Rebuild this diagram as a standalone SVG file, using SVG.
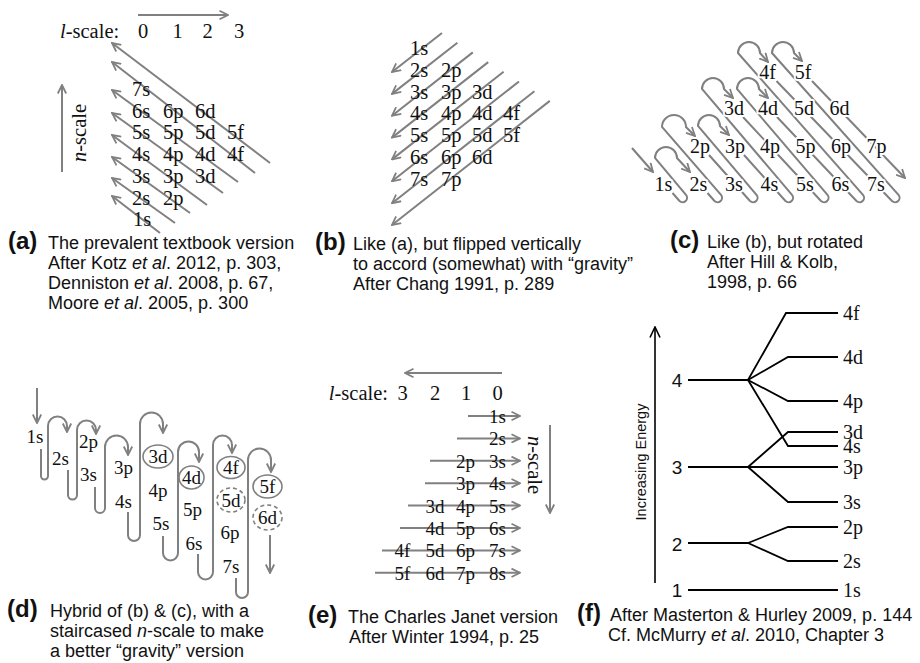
<svg xmlns="http://www.w3.org/2000/svg" width="920" height="663" viewBox="0 0 920 663">
<style>
.g{stroke:#808080;stroke-width:2;fill:none}
.ga{stroke:#808080;stroke-width:2;fill:none;marker-end:url(#ag)}
.k{stroke:#000;stroke-width:1.8;fill:none}
.ka{stroke:#000;stroke-width:1.6;fill:none;marker-end:url(#ak)}
.lab{font-family:"Liberation Serif","Times New Roman",serif;font-size:20.5px;fill:#111}
.l20{font-size:20px}
.l19{font-size:19px}
.mid{text-anchor:middle}
.halo{paint-order:stroke;stroke:#fff;stroke-width:4px;stroke-linejoin:round}
.cap{font-family:"Liberation Sans",Arial,sans-serif;font-size:18px;fill:#111}
.pl{font-family:"Liberation Sans",Arial,sans-serif;font-size:24px;font-weight:bold;fill:#111}
.num{font-family:"Liberation Sans",Arial,sans-serif;font-size:19px;fill:#111;text-anchor:middle}
.ov{fill:none;stroke:#808080;stroke-width:1.6}
.dash{stroke-dasharray:4 3}
</style>
<defs>
<marker id="ag" viewBox="0 0 10 10" refX="9" refY="5" markerWidth="10" markerHeight="10" markerUnits="userSpaceOnUse" orient="auto"><path d="M0.5,0.8 L9,5 L0.5,9.2" fill="none" stroke="#808080" stroke-width="1.8"/></marker>
<marker id="ak" viewBox="0 0 12 12" refX="11" refY="6" markerWidth="12" markerHeight="12" markerUnits="userSpaceOnUse" orient="auto"><path d="M0.5,1 L11,6 L0.5,11" fill="none" stroke="#000" stroke-width="1.6"/></marker>
</defs>
<rect width="920" height="663" fill="#fff"/>

<!-- ===== Panel (a) ===== -->
<g id="a-connectors">
<line class="ga" x1="138" y1="15" x2="228" y2="15"/>
<line class="ga" x1="62" y1="172" x2="62" y2="85"/>
<line class="ga" x1="270" y1="163" x2="112" y2="43"/>
<line class="ga" x1="255" y1="173" x2="112" y2="62"/>
<line class="ga" x1="238" y1="182" x2="112" y2="90"/>
<line class="ga" x1="223" y1="193" x2="112" y2="113"/>
<line class="ga" x1="207" y1="205" x2="112" y2="135"/>
<line class="ga" x1="190" y1="213" x2="112" y2="157"/>
<line class="ga" x1="175" y1="223" x2="112" y2="178"/>
<line class="ga" x1="160" y1="233" x2="112" y2="196"/>
</g>
<g id="a-lscale"><text class="lab" x="60" y="38"><tspan font-style="italic">l</tspan>-scale:</text>
<text class="lab mid" y="38"><tspan x="143">0</tspan><tspan x="177.5">1</tspan><tspan x="207.5">2</tspan><tspan x="239">3</tspan></text></g>
<g id="a-nscale"><text class="lab mid" transform="translate(86,133) rotate(-90)"><tspan font-style="italic">n</tspan>-scale</text></g>
<g id="a-7s"><text class="lab" x="132" y="96">7s</text></g>
<g id="a-6s"><text class="lab" x="132" y="117.5">6s</text></g>
<g id="a-6p"><text class="lab" x="163" y="117.5">6p</text></g>
<g id="a-6d"><text class="lab" x="195" y="117.5">6d</text></g>
<g id="a-5s"><text class="lab" x="132" y="139">5s</text></g>
<g id="a-5p"><text class="lab" x="163" y="139">5p</text></g>
<g id="a-5d"><text class="lab" x="195" y="139">5d</text></g>
<g id="a-5f"><text class="lab" x="227" y="139">5f</text></g>
<g id="a-4s"><text class="lab" x="132" y="161">4s</text></g>
<g id="a-4p"><text class="lab" x="163" y="161">4p</text></g>
<g id="a-4d"><text class="lab" x="195" y="161">4d</text></g>
<g id="a-4f"><text class="lab" x="227" y="161">4f</text></g>
<g id="a-3s"><text class="lab" x="132" y="183">3s</text></g>
<g id="a-3p"><text class="lab" x="163" y="183">3p</text></g>
<g id="a-3d"><text class="lab" x="195" y="183">3d</text></g>
<g id="a-2s"><text class="lab" x="132" y="204.5">2s</text></g>
<g id="a-2p"><text class="lab" x="163" y="204.5">2p</text></g>
<g id="a-1s"><text class="lab" x="133" y="226">1s</text></g>
<g id="a-caption">
<text class="pl" x="8" y="249">(a)</text>
<text class="cap" x="48" y="249">The prevalent textbook version</text>
<text class="cap" x="48" y="269">After Kotz <tspan font-style="italic">et al</tspan>. 2012, p. 303,</text>
<text class="cap" x="48" y="289">Denniston <tspan font-style="italic">et al</tspan>. 2008, p. 67,</text>
<text class="cap" x="48" y="309">Moore <tspan font-style="italic">et al</tspan>. 2005, p. 300</text>
</g>

<!-- ===== Panel (b) ===== -->
<g id="b-connectors">
<line class="ga" x1="442" y1="33" x2="392" y2="72"/>
<line class="ga" x1="457.4" y1="42.7" x2="392" y2="93.9"/>
<line class="ga" x1="472.8" y1="52.4" x2="392" y2="115.7"/>
<line class="ga" x1="488.2" y1="62.1" x2="392" y2="137.6"/>
<line class="ga" x1="503.6" y1="71.8" x2="392" y2="159.4"/>
<line class="ga" x1="519" y1="81.5" x2="392" y2="181.3"/>
<line class="ga" x1="534.4" y1="91.2" x2="392" y2="203.2"/>
<line class="ga" x1="549.8" y1="100.9" x2="392" y2="225"/>
</g>
<g id="b-1s"><text class="lab" x="410" y="55">1s</text></g>
<g id="b-2s"><text class="lab" x="410" y="76.8">2s</text></g>
<g id="b-2p"><text class="lab" x="441" y="76.8">2p</text></g>
<g id="b-3s"><text class="lab" x="410" y="98.6">3s</text></g>
<g id="b-3p"><text class="lab" x="441" y="98.6">3p</text></g>
<g id="b-3d"><text class="lab" x="472" y="98.6">3d</text></g>
<g id="b-4s"><text class="lab" x="410" y="120.4">4s</text></g>
<g id="b-4p"><text class="lab" x="441" y="120.4">4p</text></g>
<g id="b-4d"><text class="lab" x="472" y="120.4">4d</text></g>
<g id="b-4f"><text class="lab" x="503" y="120.4">4f</text></g>
<g id="b-5s"><text class="lab" x="410" y="142.2">5s</text></g>
<g id="b-5p"><text class="lab" x="441" y="142.2">5p</text></g>
<g id="b-5d"><text class="lab" x="472" y="142.2">5d</text></g>
<g id="b-5f"><text class="lab" x="503" y="142.2">5f</text></g>
<g id="b-6s"><text class="lab" x="410" y="164">6s</text></g>
<g id="b-6p"><text class="lab" x="441" y="164">6p</text></g>
<g id="b-6d"><text class="lab" x="472" y="164">6d</text></g>
<g id="b-7s"><text class="lab" x="410" y="185.8">7s</text></g>
<g id="b-7p"><text class="lab" x="441" y="185.8">7p</text></g>
<g id="b-caption">
<text class="pl" x="315" y="250">(b)</text>
<text class="cap" x="353" y="250">Like (a), but flipped vertically</text>
<text class="cap" x="353" y="270">to accord (somewhat) with “gravity”</text>
<text class="cap" x="353" y="290">After Chang 1991, p. 289</text>
</g>

<!-- ===== Panel (c) ===== -->
<g id="c-connectors">
<path class="ga" d="M632,148 L653,172"/>
<path class="ga" d="M672.5,193 L679.5,201 A4.5,4.5 0 0 0 686,194.8 L655,158 A11,11 0 0 1 677,158 L690,172"/>
<path class="ga" d="M707.5,193 L714.5,201 A4.5,4.5 0 0 0 721,194.8 L662,127 A12,12 0 0 1 686,127 L695,136"/>
<path class="ga" d="M709,155 L750,201 A4.5,4.5 0 0 0 756.5,194.8 L698,126 A11,11 0 0 1 720,126 L729,135"/>
<path class="ga" d="M744,155 L785.5,201 A4.5,4.5 0 0 0 792,194.8 L702,89 A11,11 0 0 1 724,89 L733,98"/>
<path class="ga" d="M743,117 L821,201 A4.5,4.5 0 0 0 827.5,194.8 L737,89 A11,11 0 0 1 759,89 L768,98"/>
<path class="ga" d="M777,117 L856.5,201 A4.5,4.5 0 0 0 863,194.8 L738,53 A11,11 0 0 1 760,53 L768,62"/>
<path class="ga" d="M776.5,81 L892,201 A4.5,4.5 0 0 0 898.5,194.8 L772,53 A11,11 0 0 1 794,53 L802,61"/>
<path class="ga" d="M812,81 L905,178"/>
</g>
<g id="c-4f"><text class="lab l20 mid halo" x="767.5" y="79">4f</text></g>
<g id="c-5f"><text class="lab l20 mid halo" x="803" y="79">5f</text></g>
<g id="c-3d"><text class="lab l20 mid halo" x="734" y="115">3d</text></g>
<g id="c-4d"><text class="lab l20 mid halo" x="768" y="115">4d</text></g>
<g id="c-5d"><text class="lab l20 mid halo" x="804" y="115">5d</text></g>
<g id="c-6d"><text class="lab l20 mid halo" x="839.5" y="115">6d</text></g>
<g id="c-2p"><text class="lab l20 mid halo" x="700" y="153">2p</text></g>
<g id="c-3p"><text class="lab l20 mid halo" x="735" y="153">3p</text></g>
<g id="c-4p"><text class="lab l20 mid halo" x="770" y="153">4p</text></g>
<g id="c-5p"><text class="lab l20 mid halo" x="805.5" y="153">5p</text></g>
<g id="c-6p"><text class="lab l20 mid halo" x="841" y="153">6p</text></g>
<g id="c-7p"><text class="lab l20 mid halo" x="876.5" y="153">7p</text></g>
<g id="c-1s"><text class="lab l20 mid halo" x="663.5" y="191">1s</text></g>
<g id="c-2s"><text class="lab l20 mid halo" x="698.5" y="191">2s</text></g>
<g id="c-3s"><text class="lab l20 mid halo" x="734" y="191">3s</text></g>
<g id="c-4s"><text class="lab l20 mid halo" x="769.5" y="191">4s</text></g>
<g id="c-5s"><text class="lab l20 mid halo" x="805" y="191">5s</text></g>
<g id="c-6s"><text class="lab l20 mid halo" x="840.5" y="191">6s</text></g>
<g id="c-7s"><text class="lab l20 mid halo" x="876" y="191">7s</text></g>
<g id="c-caption">
<text class="pl" x="670" y="248">(c)</text>
<text class="cap" x="707" y="248">Like (b), but rotated</text>
<text class="cap" x="707" y="268">After Hill &amp; Kolb,</text>
<text class="cap" x="707" y="288">1998, p. 66</text>
</g>

<!-- ===== Panel (d) ===== -->
<g id="d-connectors">
<path class="ga" d="M37,388 L37,423"/>
<path class="ga" d="M41,449 L41,476 A3.5,3.5 0 0 0 48,476 L48,426 A9.5,9.5 0 0 1 67,426 L67,432"/>
<path class="ga" d="M68,470 L68,495 A4.5,4.5 0 0 0 77,495 L77,430 A9.5,9.5 0 0 1 96,430 L96,434"/>
<path class="ga" d="M95,487 L95,508 A5,5 0 0 0 105,508 L105,447 A11.5,11.5 0 0 1 128,447 L128,455"/>
<path class="ga" d="M128,512 L128,535 A6,6 0 0 0 140,535 L140,424 A11.5,11.5 0 0 1 163,424 L163,433"/>
<path class="ga" d="M163,536 L163,553 A7.5,7.5 0 0 0 178,553 L178,452 A10.5,10.5 0 0 1 199,452 L199,462"/>
<path class="ga" d="M198,554 L198,572 A7.5,7.5 0 0 0 213,572 L213,445 A9.5,9.5 0 0 1 232,445 L232,453"/>
<path class="ga" d="M236,578 L236,592 A6,6 0 0 0 248,592 L248,460 A11.5,11.5 0 0 1 271,460 L271,472"/>
<path class="ga" d="M270,535 L270,573"/>
</g>
<g id="d-1s"><text class="lab l19 mid" x="35" y="443">1s</text></g>
<g id="d-2s"><text class="lab l19 mid" x="60.5" y="465">2s</text></g>
<g id="d-2p"><text class="lab l19 mid" x="88.5" y="448">2p</text></g>
<g id="d-3s"><text class="lab l19 mid" x="88.5" y="481">3s</text></g>
<g id="d-3p"><text class="lab l19 mid" x="123.5" y="474">3p</text></g>
<g id="d-4s"><text class="lab l19 mid" x="123.5" y="508">4s</text></g>
<g id="d-3d"><ellipse class="ov" cx="158" cy="456.5" rx="15" ry="11.5"/><text class="lab l19 mid" x="158" y="463">3d</text></g>
<g id="d-4p"><text class="lab l19 mid" x="158" y="497">4p</text></g>
<g id="d-5s"><text class="lab l19 mid" x="161" y="530">5s</text></g>
<g id="d-4d"><ellipse class="ov" cx="191.5" cy="477.5" rx="12.5" ry="11.5"/><text class="lab l19 mid" x="191.5" y="484">4d</text></g>
<g id="d-5p"><text class="lab l19 mid" x="192.5" y="516">5p</text></g>
<g id="d-6s"><text class="lab l19 mid" x="194" y="550">6s</text></g>
<g id="d-4f"><ellipse class="ov" cx="231" cy="467.5" rx="14" ry="11"/><text class="lab l19 mid" x="231" y="474">4f</text></g>
<g id="d-5d"><ellipse class="ov dash" cx="231" cy="500" rx="14" ry="12"/><text class="lab l19 mid" x="231" y="506.5">5d</text></g>
<g id="d-6p"><text class="lab l19 mid" x="230" y="539">6p</text></g>
<g id="d-7s"><text class="lab l19 mid" x="231" y="573">7s</text></g>
<g id="d-5f"><ellipse class="ov" cx="267.5" cy="486.5" rx="14.5" ry="11.5"/><text class="lab l19 mid" x="267.5" y="493">5f</text></g>
<g id="d-6d"><ellipse class="ov dash" cx="267.5" cy="517.5" rx="14.5" ry="12.5"/><text class="lab l19 mid" x="267.5" y="524">6d</text></g>
<g id="d-caption">
<text class="pl" x="7" y="617">(d)</text>
<text class="cap" x="50" y="617">Hybrid of (b) &amp; (c), with a</text>
<text class="cap" x="50" y="637">staircased <tspan font-style="italic">n</tspan>-scale to make</text>
<text class="cap" x="50" y="657">a better “gravity” version</text>
</g>

<!-- ===== Panel (e) ===== -->
<g id="e-connectors">
<line class="ga" x1="502" y1="373" x2="405" y2="373"/>
<line class="ga" x1="550" y1="425" x2="550" y2="513"/>
<line class="ga" x1="468" y1="416" x2="520" y2="416"/>
<line class="ga" x1="457" y1="438.4" x2="520" y2="438.4"/>
<line class="ga" x1="430" y1="460.8" x2="520" y2="460.8"/>
<line class="ga" x1="425" y1="483.2" x2="520" y2="483.2"/>
<line class="ga" x1="408" y1="505.6" x2="520" y2="505.6"/>
<line class="ga" x1="400" y1="528" x2="520" y2="528"/>
<line class="ga" x1="382" y1="550.4" x2="520" y2="550.4"/>
<line class="ga" x1="375" y1="572.8" x2="520" y2="572.8"/>
</g>
<g id="e-lscale"><text class="lab" x="388" y="400" text-anchor="end"><tspan font-style="italic">l</tspan>-scale:</text>
<text class="lab mid" y="400"><tspan x="402.5">3</tspan><tspan x="435">2</tspan><tspan x="466">1</tspan><tspan x="497.5">0</tspan></text></g>
<g id="e-nscale"><text class="lab mid" transform="translate(528,465) rotate(90)"><tspan font-style="italic">n</tspan>-scale</text></g>
<g id="e-1s"><text class="lab l19 mid" x="497.5" y="423">1s</text></g>
<g id="e-2s"><text class="lab l19 mid" x="497.5" y="445.4">2s</text></g>
<g id="e-2p"><text class="lab l19 mid" x="465.5" y="467.8">2p</text></g>
<g id="e-3s"><text class="lab l19 mid" x="497.5" y="467.8">3s</text></g>
<g id="e-3p"><text class="lab l19 mid" x="465.5" y="490.2">3p</text></g>
<g id="e-4s"><text class="lab l19 mid" x="497.5" y="490.2">4s</text></g>
<g id="e-3d"><text class="lab l19 mid" x="435" y="512.6">3d</text></g>
<g id="e-4p"><text class="lab l19 mid" x="465.5" y="512.6">4p</text></g>
<g id="e-5s"><text class="lab l19 mid" x="497.5" y="512.6">5s</text></g>
<g id="e-4d"><text class="lab l19 mid" x="435" y="535">4d</text></g>
<g id="e-5p"><text class="lab l19 mid" x="465.5" y="535">5p</text></g>
<g id="e-6s"><text class="lab l19 mid" x="497.5" y="535">6s</text></g>
<g id="e-4f"><text class="lab l19 mid" x="402.5" y="557.4">4f</text></g>
<g id="e-5d"><text class="lab l19 mid" x="435" y="557.4">5d</text></g>
<g id="e-6p"><text class="lab l19 mid" x="465.5" y="557.4">6p</text></g>
<g id="e-7s"><text class="lab l19 mid" x="497.5" y="557.4">7s</text></g>
<g id="e-5f"><text class="lab l19 mid" x="402.5" y="579.8">5f</text></g>
<g id="e-6d"><text class="lab l19 mid" x="435" y="579.8">6d</text></g>
<g id="e-7p"><text class="lab l19 mid" x="465.5" y="579.8">7p</text></g>
<g id="e-8s"><text class="lab l19 mid" x="497.5" y="579.8">8s</text></g>
<g id="e-caption">
<text class="pl" x="308" y="623">(e)</text>
<text class="cap" x="348" y="623">The Charles Janet version</text>
<text class="cap" x="349" y="643">After Winter 1994, p. 25</text>
</g>

<!-- ===== Panel (f) ===== -->
<g id="f-connectors">
<path class="ka" d="M655,583 L655,327"/>
<path class="k" d="M688,380 L748,380"/>
<path class="k" d="M748,380 L786,313 L838,313"/>
<path class="k" d="M748,380 L788,357 L838,357"/>
<path class="k" d="M748,380 L788,401 L838,401"/>
<path class="k" d="M748,380 L788,446 L838,446"/>
<path class="k" d="M688,467 L838,467"/>
<path class="k" d="M748,467 L788,432 L838,432"/>
<path class="k" d="M748,467 L788,502 L838,502"/>
<path class="k" d="M688,543 L748,543"/>
<path class="k" d="M748,543 L788,527 L838,527"/>
<path class="k" d="M748,543 L788,561 L838,561"/>
<path class="k" d="M688,590 L838,590"/>
</g>
<g id="f-axis-label"><text class="cap" style="font-size:14.5px" text-anchor="middle" transform="translate(646,462) rotate(-90)">Increasing Energy</text></g>
<g id="f-n4"><text class="num" x="677" y="387">4</text></g>
<g id="f-n3"><text class="num" x="677" y="474">3</text></g>
<g id="f-n2"><text class="num" x="677" y="551">2</text></g>
<g id="f-n1"><text class="num" x="677" y="597">1</text></g>
<g id="f-4f"><text class="lab l20" x="843" y="319.5">4f</text></g>
<g id="f-4d"><text class="lab l20" x="843" y="363.5">4d</text></g>
<g id="f-4p"><text class="lab l20" x="843" y="407.5">4p</text></g>
<g id="f-3d"><text class="lab l20" x="843" y="438.5">3d</text></g>
<g id="f-4s"><text class="lab l20" x="843" y="452.5">4s</text></g>
<g id="f-3p"><text class="lab l20" x="843" y="473.5">3p</text></g>
<g id="f-3s"><text class="lab l20" x="843" y="508.5">3s</text></g>
<g id="f-2p"><text class="lab l20" x="843" y="533.5">2p</text></g>
<g id="f-2s"><text class="lab l20" x="843" y="567.5">2s</text></g>
<g id="f-1s"><text class="lab l20" x="843" y="596.5">1s</text></g>
<g id="f-caption">
<text class="pl" x="577" y="621">(f)</text>
<text class="cap" x="610" y="621">After Masterton &amp; Hurley 2009, p. 144</text>
<text class="cap" x="608" y="641">Cf. McMurry <tspan font-style="italic">et al</tspan>. 2010, Chapter 3</text>
</g>
</svg>
